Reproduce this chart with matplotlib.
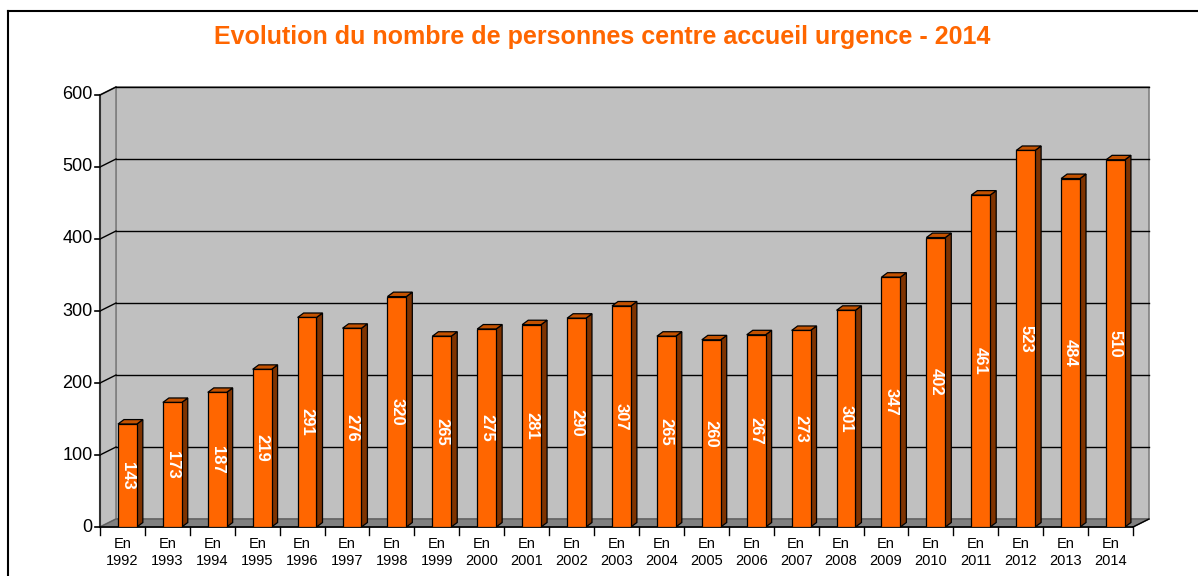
import numpy as np
import matplotlib
matplotlib.use("Agg")
import matplotlib.pyplot as plt
from matplotlib.patches import Polygon

# Data
years = list(range(1992, 2015))
counts = [143, 173, 187, 219, 291, 276, 320, 265, 275, 281, 290, 307,
          265, 260, 267, 273, 301, 347, 402, 461, 523, 484, 510]
labels = [f"En\n{y}" for y in years]
y_ticks = [0, 100, 200, 300, 400, 500, 600]

TITLE = "Evolution du nombre de personnes centre accueil urgence - 2014"
ORANGE = "#FF6600"
SIDE = "#7F3300"
TOP = "#C45200"
WALL = "#C0C0C0"
FLOOR = "#808080"

# pseudo-3d offsets, in data units
DX = 0.356    # back wall shift along x (categories)
DY = 11.1     # back wall shift along y (values)
BAR_W = 0.42
BAR_SHIFT = 0.11
BAR_DX = 0.134
BAR_DY = 6.2

plt.rcParams["font.family"] = ["Liberation Sans", "DejaVu Sans"]

fig = plt.figure(figsize=(11.98, 5.76), dpi=100)
W, H = 1198, 576
ax = fig.add_axes([100 / W, (H - 527) / H, (1133 - 100) / W, (527 - 95) / H])
n = len(years)
x0, x1 = -0.5, n - 0.5
ax.set_xlim(x0, x1)
ax.set_ylim(0, 600)
ax.axis("off")

# outer chart frame (only top and left visible in the crop)
fig.add_artist(plt.Line2D([8 / W, 8 / W], [0, (H - 11) / H], transform=fig.transFigure,
                          color="black", lw=1.5))
fig.add_artist(plt.Line2D([8 / W, 1.0], [(H - 11) / H, (H - 11) / H],
                          transform=fig.transFigure, color="black", lw=1.5))

# walls and floor
back = Polygon([(x0 + DX, DY), (x1 + DX, DY), (x1 + DX, 600 + DY), (x0 + DX, 600 + DY)],
               closed=True, fc=WALL, ec="#808080", lw=1.2, clip_on=False, zorder=1)
side = Polygon([(x0, 0), (x0 + DX, DY), (x0 + DX, 600 + DY), (x0, 600)],
               closed=True, fc=WALL, ec="#808080", lw=1.2, clip_on=False, zorder=1)
floor = Polygon([(x0, 0), (x1, 0), (x1 + DX, DY), (x0 + DX, DY)],
                closed=True, fc=FLOOR, ec="#606060", lw=1.0, clip_on=False, zorder=1)
for p in (back, side, floor):
    ax.add_patch(p)

# gridlines on the back wall plus diagonal ticks on the side wall
for v in y_ticks[1:]:
    ax.plot([x0 + DX, x1 + DX], [v + DY, v + DY], color="black", lw=1.0,
            clip_on=False, zorder=2)
    ax.plot([x0, x0 + DX], [v, v + DY], color="black", lw=1.0, clip_on=False, zorder=2)

# front axis lines
ax.plot([x0, x0], [0, 600], color="#333333", lw=1.5, clip_on=False, zorder=3)
ax.plot([x0, x1], [0, 0], color="black", lw=1.2, clip_on=False, zorder=3)
ax.plot([x1, x1 + DX], [0, DY], color="black", lw=1.0, clip_on=False, zorder=3)

# y ticks and labels
tick_len_x = 5 / 44.9
for v in y_ticks:
    ax.plot([x0 - tick_len_x, x0], [v, v], color="black", lw=1.2, clip_on=False, zorder=3)
    ax.text(x0 - tick_len_x - 0.05, v, str(v), ha="right", va="center",
            fontsize=13, color="black")

# x ticks at category boundaries and labels
tick_len_y = 8 / 0.72
for i in range(n + 1):
    xb = x0 + i
    ax.plot([xb, xb], [0, -tick_len_y], color="black", lw=1.0, clip_on=False, zorder=3)
for i, lab in enumerate(labels):
    ax.text(i, -14, lab, ha="center", va="top", fontsize=10.5, color="black",
            linespacing=1.25)

# bars: front face via ax.bar, side and top faces as polygons
xs = np.arange(n) + BAR_SHIFT
ax.bar(xs, counts, width=BAR_W, color=ORANGE, edgecolor="black", lw=0.9, zorder=5)
for x, v in zip(xs, counts):
    l, r = x - BAR_W / 2, x + BAR_W / 2
    ax.add_patch(Polygon([(r, 0), (r + BAR_DX, BAR_DY), (r + BAR_DX, v + BAR_DY), (r, v)],
                         closed=True, fc=SIDE, ec="black", lw=0.9, zorder=4, clip_on=False))
    ax.add_patch(Polygon([(l, v), (r, v), (r + BAR_DX, v + BAR_DY), (l + BAR_DX, v + BAR_DY)],
                         closed=True, fc=TOP, ec="black", lw=0.9, zorder=4, clip_on=False))
    ax.text(x, v / 2, str(v), rotation=270, ha="center", va="center",
            fontsize=12, fontweight="bold", color="white", zorder=6)

fig.text(602 / W, (H - 37) / H, TITLE, ha="center", va="center",
         fontsize=18, fontweight="bold", color=ORANGE)

fig.savefig("out.png", dpi=100, facecolor="white")
